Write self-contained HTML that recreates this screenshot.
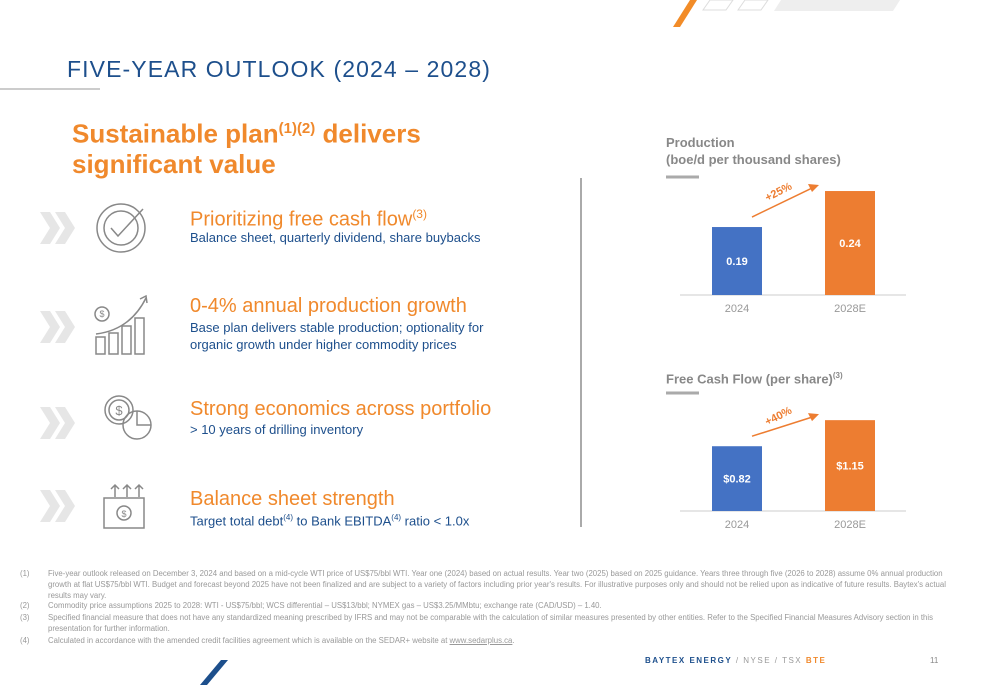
<!DOCTYPE html>
<html><head><meta charset="utf-8">
<style>
body{margin:0;width:1000px;height:685px;overflow:hidden;background:#fff;font-family:"Liberation Sans",sans-serif;position:relative}
.a{position:absolute;white-space:nowrap}
.h{color:#f0892c;font-size:20px}
.s{color:#1d4f8c;font-size:13px;line-height:17px}
.fn{position:absolute;left:20px;font-size:7.8px;color:#999;line-height:11px;width:930px}
.fn span{position:absolute;left:0}
.fn div{margin-left:28px}
</style></head><body>
<svg class="a" style="left:0;top:0" width="1000" height="685">
<polygon points="673,27 680,27 697,0 690,0" fill="#f28c28"/>
<polygon points="703,10 710,0 733,0 726,10" fill="none" stroke="#ddd"/>
<polygon points="738,10 745,0 768,0 761,10" fill="none" stroke="#ddd"/>
<polygon points="774,11 781,0 900,0 893,11" fill="#eee"/>
<line x1="0" y1="89" x2="100" y2="89" stroke="#ccc" stroke-width="2"/>
<line x1="581" y1="178" x2="581" y2="527" stroke="#aaa" stroke-width="2"/>
<polygon points="200,685 207,685 228,660 221,660" fill="#1d4f8c"/>
<g fill="#e6e6e6">
<polygon points="40,212 50,212 60,228 50,244 40,244 50,228"/><polygon points="55,212 65,212 75,228 65,244 55,244 65,228"/>
<polygon points="40,311 50,311 60,327 50,343 40,343 50,327"/><polygon points="55,311 65,311 75,327 65,343 55,343 65,327"/>
<polygon points="40,407 50,407 60,423 50,439 40,439 50,423"/><polygon points="55,407 65,407 75,423 65,439 55,439 65,423"/>
<polygon points="40,490 50,490 60,506 50,522 40,522 50,506"/><polygon points="55,490 65,490 75,506 65,522 55,522 65,506"/>
</g>
<g fill="none" stroke="#888" stroke-width="1.5">
<circle cx="121" cy="228" r="24"/><circle cx="121" cy="228" r="17"/><polyline points="111,228 118,236 143,209"/>
<circle cx="102" cy="314" r="7"/><path d="M96 334 Q130 330 146 298"/><polyline points="140,299 146,296 147,303"/>
<rect x="96" y="337" width="9" height="17"/><rect x="109" y="333" width="9" height="21"/><rect x="122" y="326" width="9" height="28"/><rect x="135" y="318" width="9" height="36"/>
<circle cx="119" cy="410" r="14"/><circle cx="119" cy="410" r="10"/><circle cx="137" cy="425" r="14"/><path d="M137 411 L137 425 L151 425"/>
<rect x="104" y="498" width="40" height="30"/><circle cx="124" cy="513" r="7"/><path d="M115 497 v-12 m-4 4 l4-4 4 4 M127 497 v-12 m-4 4 l4-4 4 4 M139 497 v-12 m-4 4 l4-4 4 4"/>
</g>
<g fill="#888" font-size="9" text-anchor="middle"><text x="102" y="317">$</text><text x="119" y="415" font-size="13">$</text><text x="124" y="517">$</text></g>
</svg>
<div class="a" style="left:67px;top:56px;font-size:23px;color:#1d4f8c;letter-spacing:1.1px">FIVE-YEAR OUTLOOK (2024 – 2028)</div>
<div class="a" style="left:72px;top:114px;font-size:26px;font-weight:bold;color:#f0892c;line-height:30px">Sustainable plan<sup style="font-size:15px">(1)(2)</sup> delivers<br>significant value</div>
<div class="a h" style="left:190px;top:207px">Prioritizing free cash flow<sup style="font-size:12px">(3)</sup></div>
<div class="a s" style="left:190px;top:229px">Balance sheet, quarterly dividend, share buybacks</div>
<div class="a h" style="left:190px;top:295px">0-4% annual production growth</div>
<div class="a s" style="left:190px;top:319px">Base plan delivers stable production; optionality for<br>organic growth under higher commodity prices</div>
<div class="a h" style="left:190px;top:398px">Strong economics across portfolio</div>
<div class="a s" style="left:190px;top:421px">&gt; 10 years of drilling inventory</div>
<div class="a h" style="left:190px;top:488px">Balance sheet strength</div>
<div class="a s" style="left:190px;top:509px">Target total debt<sup style="font-size:8px">(4)</sup> to Bank EBITDA<sup style="font-size:8px">(4)</sup> ratio &lt; 1.0x</div>
<div class="a" style="left:666px;top:134px;font-size:13px;font-weight:bold;color:#888;line-height:17px">Production<br>(boe/d per thousand shares)</div>
<div class="a" style="left:666px;top:371px;font-size:13px;font-weight:bold;color:#888">Free Cash Flow (per share)<sup style="font-size:8px">(3)</sup></div>
<svg class="a" id="ch" style="left:0;top:0" width="1000" height="685"></svg>
<div class="fn" style="top:568px"><span>(1)</span><div>Five-year outlook released on December 3, 2024 and based on a mid-cycle WTI price of US$75/bbl WTI. Year one (2024) based on actual results. Year two (2025) based on 2025 guidance. Years three through five (2026 to 2028) assume 0% annual production growth at flat US$75/bbl WTI. Budget and forecast beyond 2025 have not been finalized and are subject to a variety of factors including prior year's results. For illustrative purposes only and should not be relied upon as indicative of future results. Baytex's actual results may vary.</div></div>
<div class="fn" style="top:600px"><span>(2)</span><div>Commodity price assumptions 2025 to 2028: WTI - US$75/bbl; WCS differential – US$13/bbl; NYMEX gas – US$3.25/MMbtu; exchange rate (CAD/USD) – 1.40.</div></div>
<div class="fn" style="top:612px"><span>(3)</span><div>Specified financial measure that does not have any standardized meaning prescribed by IFRS and may not be comparable with the calculation of similar measures presented by other entities. Refer to the Specified Financial Measures Advisory section in this presentation for further information.</div></div>
<div class="fn" style="top:635px"><span>(4)</span><div>Calculated in accordance with the amended credit facilities agreement which is available on the SEDAR+ website at <u>www.sedarplus.ca</u>.</div></div>
<div class="a" style="left:645px;top:656px;font-size:8px;font-weight:bold;color:#1d4f8c;letter-spacing:1.5px">BAYTEX ENERGY <span style="color:#999;font-weight:normal">/ NYSE / TSX</span> <span style="color:#f0892c">BTE</span></div>
<div class="a" style="left:930px;top:656px;font-size:8px;color:#888">11</div>
<script>
const categories=["2024","2028E"];
const prodValues=[0.19,0.24];
const prodLabels=["0.19","0.24"];
const prodChange="+25%";
const fcfValues=[0.82,1.15];
const fcfLabels=["$0.82","$1.15"];
const fcfChange="+40%";
const colors=["#4472c4","#ed7d31"];
const svg=document.getElementById('ch');
const NS='http://www.w3.org/2000/svg';
function mk(t,a){const e=document.createElementNS(NS,t);for(const k in a)e.setAttribute(k,a[k]);svg.appendChild(e);return e;}
function chart(name,vals,labels,change,base,v0,scale){
  const xs=c=>712+c*113;
  const y=v=>base-(v-v0)*scale;
  const tl=mk('line',{x1:666,y1:base-118,x2:699,y2:base-118,stroke:'#aaa','stroke-width':3});
  
  
  const ax=mk('line',{x1:680,y1:base,x2:906,y2:base,stroke:'#ddd','stroke-width':1.5});
  
  
  vals.forEach((v,i)=>{
    const r=mk('rect',{x:xs(i),y:y(v),width:50,height:base-y(v),fill:colors[i]});
    
    
    const t=mk('text',{x:xs(i)+25,y:(y(v)+base)/2+4,fill:'#fff','font-size':11,'font-weight':'bold','text-anchor':'middle'});
    t.textContent=labels[i];
    
    
    const c=mk('text',{x:xs(i)+25,y:base+17,fill:'#999','font-size':11,'text-anchor':'middle'});
    c.textContent=categories[i];
    
    
  });
  const y1=y(vals[0])-10,y2=y(vals[1])-6;
  const ar=mk('line',{x1:752,y1:y1,x2:812,y2:y2+3,stroke:'#ed7d31','stroke-width':1.5});
  
  
  const hd=mk('polygon',{points:`819,${y2} 808,${y2-1} 812,${y2+7}`,fill:'#ed7d31'});
  
  
  const ct=mk('text',{x:780,y:(y1+y2)/2-6,fill:'#ed7d31','font-size':11,'font-weight':'bold','text-anchor':'middle',transform:`rotate(-27 780 ${(y1+y2)/2-6})`});
  ct.textContent=change;
  
  
}
chart('production',prodValues,prodLabels,prodChange,295,0.0956,720);
chart('fcf',fcfValues,fcfLabels,fcfChange,511,0,79);
</script>
</body></html>
